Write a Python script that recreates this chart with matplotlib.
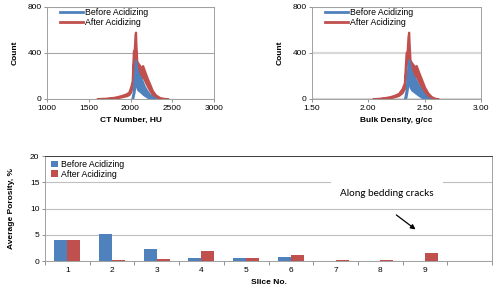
import matplotlib.pyplot as plt
import numpy as np

plt.rcParams['font.family'] = ['Liberation Sans', 'DejaVu Sans']

BLUE = "#4F81BD"
RED = "#C0504D"

# CT number histogram (band = lower/upper envelope of the noisy curve)
ct_after_x = [1600, 1700, 1800, 1850, 1900, 1950, 1980, 2000, 2020, 2035, 2045, 2055, 2060, 2065,
              2075, 2090, 2110, 2130, 2145, 2160, 2180, 2200, 2230, 2260, 2300, 2350, 2400, 2450]
ct_after_hi = [3, 6, 14, 22, 32, 45, 60, 100, 150, 420, 430, 560, 580, 470,
               330, 310, 290, 270, 290, 260, 220, 180, 130, 75, 35, 12, 5, 1]
ct_after_lo = [0, 2, 7, 12, 20, 28, 38, 60, 100, 300, 370, 400, 420, 350,
               230, 210, 200, 185, 205, 175, 145, 115, 75, 40, 12, 3, 0, 0]
ct_before_x = [2015, 2030, 2045, 2055, 2062, 2070, 2085, 2100, 2120, 2140, 2167, 2200, 2230, 2262, 2290, 2310]
ct_before_hi = [0, 60, 200, 300, 340, 300, 240, 210, 190, 160, 110, 70, 40, 20, 6, 0]
ct_before_lo = [0, 10, 60, 120, 150, 110, 80, 70, 60, 45, 30, 15, 6, 2, 0, 0]

# bulk density histogram
bd_after_x = [2.04, 2.10, 2.16, 2.20, 2.24, 2.27, 2.30, 2.32, 2.335, 2.345, 2.352, 2.358, 2.362, 2.37,
              2.38, 2.395, 2.41, 2.425, 2.44, 2.46, 2.48, 2.50, 2.53, 2.56, 2.59, 2.62]
bd_after_hi = [2, 6, 14, 22, 35, 50, 90, 140, 400, 420, 540, 580, 480, 340,
               320, 300, 280, 290, 250, 200, 150, 100, 50, 20, 6, 1]
bd_after_lo = [0, 2, 7, 12, 22, 32, 55, 90, 280, 360, 400, 420, 360, 240,
               220, 205, 190, 200, 165, 125, 85, 55, 20, 6, 0, 0]
bd_before_x = [2.32, 2.335, 2.345, 2.352, 2.36, 2.37, 2.385, 2.40, 2.42, 2.44, 2.47, 2.50, 2.53, 2.55]
bd_before_hi = [0, 80, 220, 300, 340, 290, 230, 200, 170, 130, 80, 35, 10, 0]
bd_before_lo = [0, 15, 70, 120, 150, 100, 75, 65, 50, 35, 15, 4, 0, 0]

# porosity by slice
slices = ["1", "2", "3", "4", "5", "6", "7", "8", "9", ""]
por_before = [4.0, 5.2, 2.2, 0.6, 0.5, 0.7, 0.0, 0.0, 0.0, 0.0]
por_after = [4.1, 0.15, 0.4, 2.0, 0.5, 1.2, 0.25, 0.15, 1.6, 0.0]

fig = plt.figure(figsize=(5.0, 2.99), dpi=100)

def hist_panel(rect, ax_x, a_lo, a_hi, bx, b_lo, b_hi, xlim, xticks, xticklabels, xlabel, gridc, gridw):
    ax = fig.add_axes(rect)
    ax.fill_between(ax_x, a_lo, a_hi, color=RED, lw=1.6, edgecolor=RED)
    ax.fill_between(bx, b_lo, b_hi, color=BLUE, lw=1.3, edgecolor=BLUE)
    ax.plot([], [], color=BLUE, lw=2, label="Before Acidizing")
    ax.plot([], [], color=RED, lw=2, label="After Acidizing")
    ax.set_xlim(*xlim)
    ax.set_ylim(0, 800)
    ax.set_yticks([0, 400, 800])
    ax.set_xticks(xticks)
    ax.set_xticklabels(xticklabels)
    ax.yaxis.grid(True, color=gridc, lw=gridw)
    ax.set_axisbelow(True)
    for s in ax.spines.values():
        s.set_color("#A0A0A0")
        s.set_linewidth(0.7)
    ax.tick_params(labelsize=6, length=2, width=0.6, color="#808080", pad=2)
    ax.set_ylabel("Count", fontsize=6, fontweight="bold", labelpad=6)
    ax.set_xlabel(xlabel, fontsize=6, fontweight="bold", labelpad=4)
    ax.legend(loc="upper left", bbox_to_anchor=(0.04, 1.05), frameon=False, fontsize=6.3,
              handlelength=2.6, handletextpad=0.3, labelspacing=0.05, borderpad=0.2)
    return ax

hist_panel([0.094, 0.669, 0.334, 0.308], ct_after_x, ct_after_lo, ct_after_hi,
           ct_before_x, ct_before_lo, ct_before_hi, (1000, 3000),
           [1000, 1500, 2000, 2500, 3000], ["1000", "1500", "2000", "2500", "3000"], "CT Number, HU",
           "#A6A6A6", 0.8)
hist_panel([0.624, 0.669, 0.338, 0.308], bd_after_x, bd_after_lo, bd_after_hi,
           bd_before_x, bd_before_lo, bd_before_hi, (1.5, 3.0),
           [1.5, 2.0, 2.5, 3.0], ["1.50", "2.00", "2.50", "3.00"], "Bulk Density, g/cc",
           "#D9D9D9", 1.6)

ax = fig.add_axes([0.09, 0.127, 0.894, 0.351])
x = np.arange(len(slices))
w = 0.29
ax.bar(x - w / 2, por_before, w, color=BLUE, label="Before Acidizing")
ax.bar(x + w / 2, por_after, w, color=RED, label="After Acidizing")
ax.set_xlim(-0.5, len(slices) - 0.5)
ax.set_ylim(0, 20)
ax.set_yticks([0, 5, 10, 15, 20])
ax.set_xticks(x)
ax.set_xticklabels(slices)
ax.set_xticks(np.arange(len(slices) + 1) - 0.5, minor=True)
ax.tick_params(axis="x", which="major", length=0, labelsize=6, pad=4)
ax.tick_params(axis="x", which="minor", length=3, width=0.6, color="#808080")
ax.tick_params(axis="y", labelsize=6, length=2, width=0.6, color="#808080", pad=2)
ax.yaxis.grid(True, color="#BFBFBF", lw=0.8)
ax.set_axisbelow(True)
for s in ax.spines.values():
    s.set_color("#A0A0A0")
    s.set_linewidth(0.7)
ax.spines["top"].set_color("#404040")
ax.set_ylabel("Average Porosity, %", fontsize=6, fontweight="bold", labelpad=11)
ax.set_xlabel("Slice No.", fontsize=6, fontweight="bold", labelpad=4)
ax.legend(loc="upper left", bbox_to_anchor=(0.0, 1.02), frameon=False, fontsize=6.3,
          handlelength=0.8, handleheight=0.8, handletextpad=0.3, labelspacing=0.05, borderpad=0.2)

ax.text(7.15, 12.8, "Along bedding cracks", fontsize=7.2, family=["Lato", "DejaVu Sans"],
        ha="center", va="center",
        bbox=dict(boxstyle="square,pad=0.9", fc="white", ec="none"))
ax.annotate("", xy=(7.84, 5.7), xytext=(7.31, 9.1),
            arrowprops=dict(arrowstyle="-|>", color="black", lw=0.9, mutation_scale=7))

fig.savefig("out.png", dpi=100)
